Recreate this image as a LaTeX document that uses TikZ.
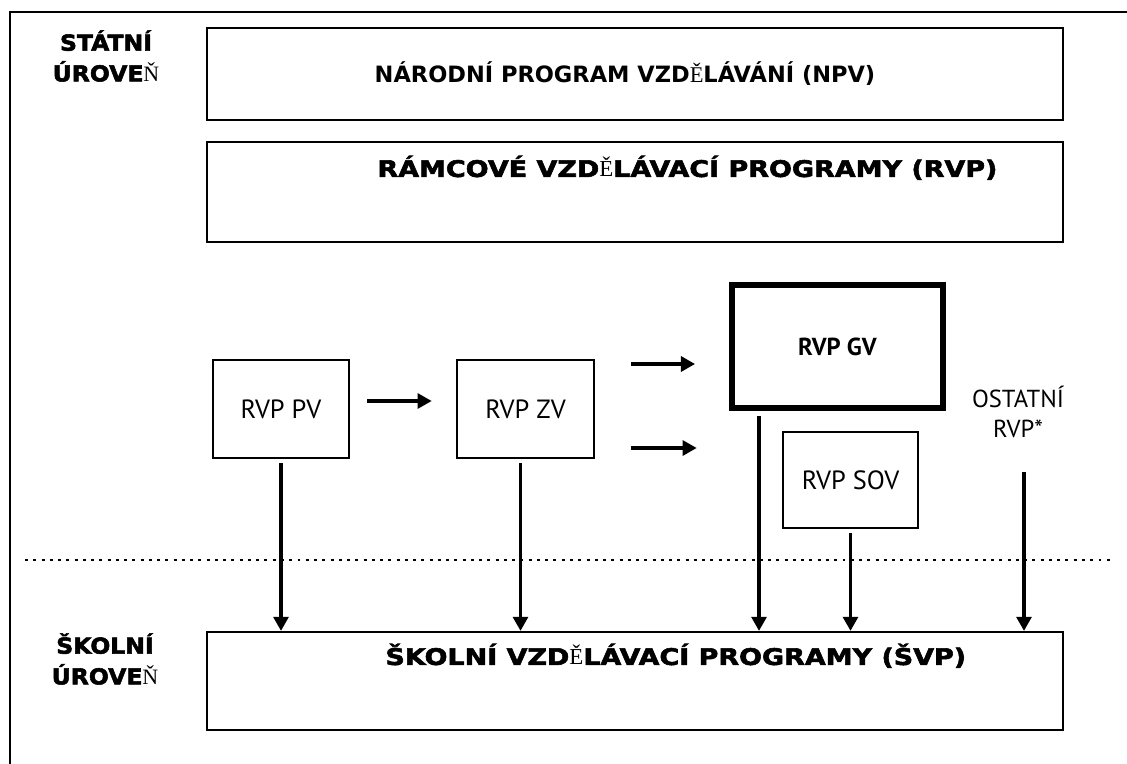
\documentclass[tikz,border=0pt]{standalone}
\usepackage{fontspec}
\setmainfont{PT Sans}
\newfontfamily\npvfont{DejaVu Sans}
\newfontfamily\headfont{DejaVu Sans}[BoldFeatures={FakeStretch=1.18,FakeBold=2.5}]
\newfontfamily\levelfont{DejaVu Sans}[BoldFeatures={FakeStretch=1.07,FakeBold=2.5}]
\newfontfamily\serifchar{Liberation Serif}
\usetikzlibrary{arrows.meta,positioning}
\newcommand{\Ehat}{{\serifchar\mdseries Ě}}
\newcommand{\Nhat}{{\serifchar\mdseries Ň}}

\tikzset{
  level/.style={font=\levelfont\bfseries\fontsize{12.5}{17.5}\selectfont, align=center},
  bigbox/.style={rectangle,draw,line width=1.3pt,minimum width=17.12cm},
  rvpbox/.style={rectangle,draw,line width=1.5pt,minimum width=2.72cm,minimum height=1.96cm,font=\fontsize{15}{18}\selectfont},
  heading/.style={font=\headfont\bfseries\fontsize{13}{15}\selectfont,inner sep=0pt,anchor=west},
}

\begin{document}
\begin{tikzpicture}[x=0.02cm,y=-0.02cm,line width=1.8pt,>={Triangle[length=8pt,width=8.5pt]}]
  \useasboundingbox (0,0) rectangle (1127,764);
  \draw[line width=1.3pt] (10,764) -- (10,12) -- (1127,12);

  % levels
  \node[level] (stat) at (106,56) {STÁTNÍ\\ÚROVE\Nhat};
  \node[level] (skol) at (105,659) {ŠKOLNÍ\\ÚROVE\Nhat};

  % state programmes
  \node[bigbox,minimum height=1.84cm] (npv) at (635,74) {};
  \node[font=\npvfont\bfseries\fontsize{12.8}{15}\selectfont] (npvtxt) at ([xshift=-0.2cm]npv.center) {NÁRODNÍ PROGRAM VZD\Ehat LÁVÁNÍ (NPV)};
  \node[bigbox,minimum height=2cm] (rvp) at (635,192) {};
  \node[heading] (rvptxt) at ([xshift=3.4cm,yshift=-0.54cm]rvp.north west) {RÁMCOVÉ VZD\Ehat LÁVACÍ PROGRAMY (RVP)};

  \node[rvpbox] (pv) at (281,409) {RVP PV};
  \node[rvpbox,minimum width=2.74cm] (zv) at (525.5,409) {RVP ZV};
  \node[rvpbox,line width=3.4pt,minimum width=4.22cm,minimum height=2.46cm,font=\bfseries\fontsize{14}{17}\selectfont] (gv) at (837.5,346.5) {RVP GV};
  \node[rvpbox,minimum width=2.7cm,minimum height=1.92cm] (sov) at (850.5,480) {RVP SOV};
  \node[align=center,font=\fontsize{14}{17}\selectfont] (ost) at (1018,412) {OSTATNÍ\\RVP*};

  % school programmes
  \node[bigbox,minimum height=1.96cm] (svp) at (635,681) {};
  \node[heading] (svptxt) at ([xshift=3.56cm,yshift=-0.5cm]svp.north west) {ŠKOLNÍ VZD\Ehat LÁVACÍ PROGRAMY (ŠVP)};

  \draw[dash pattern=on 1.7pt off 3pt,line width=1.7pt] (25,560) -- (1115,560);

  % arrows
  \coordinate (gvin) at ([yshift=-0.35cm]gv.west);
  \coordinate (sovin) at ([yshift=0.64cm]sov.west);
  \coordinate (gvfoot) at ([xshift=0.6cm,yshift=-0.1cm]gv.south west);
  \coordinate (zvfoot) at ([xshift=-0.1cm]zv.south);
  \coordinate (ostfoot) at (1024,472);

  \draw[->,shorten <=0.34cm,shorten >=0.48cm] ([yshift=0.16cm]pv.east) -- ([yshift=0.16cm]zv.west);
  \draw[->,shorten <=0.72cm,shorten >=0.68cm] (zv.east |- gvin) -- (gvin);
  \draw[->,shorten <=0.72cm,shorten >=1.7cm] (zv.east |- sovin) -- (sovin);

  \draw[->,shorten <=2pt] (pv.south) -- (pv.south |- svp.north);
  \draw[->,shorten <=2pt] (zvfoot) -- (zvfoot |- svp.north);
  \draw[->] (gvfoot) -- (gvfoot |- svp.north);
  \draw[->,shorten <=2pt] (sov.south) -- (sov.south |- svp.north);
  \draw[->] (ostfoot) -- (ostfoot |- svp.north);
\end{tikzpicture}
\end{document}
